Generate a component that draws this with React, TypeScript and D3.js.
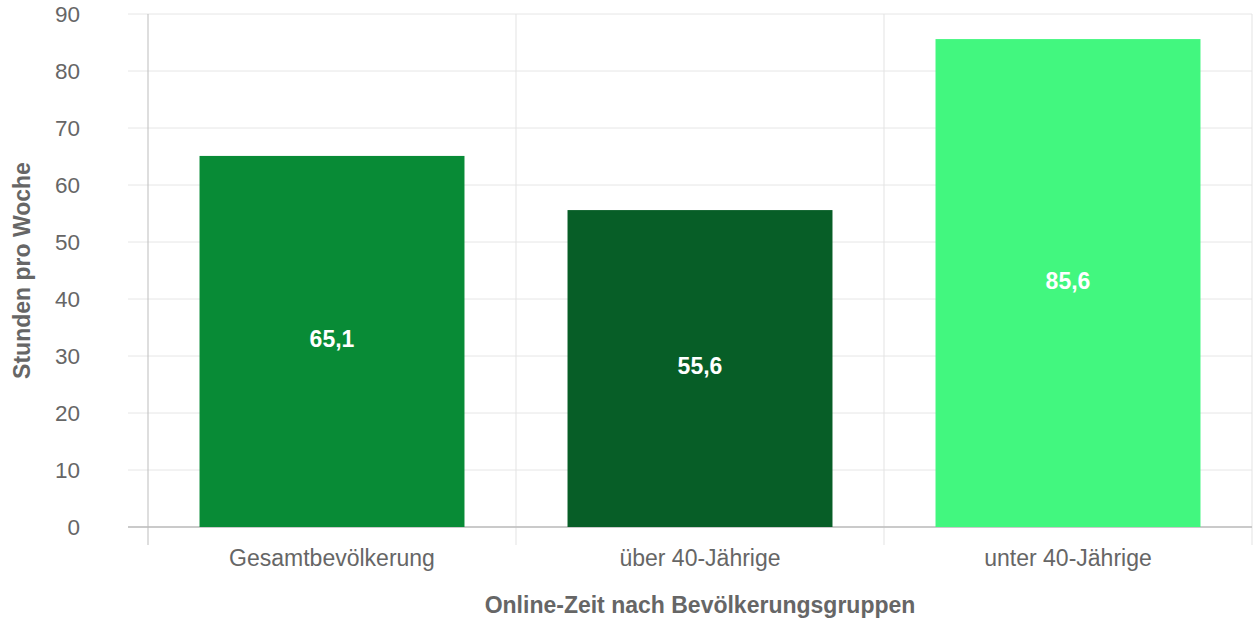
import React from "react";
import * as d3 from "d3";

const categories = ["Gesamtbevölkerung", "über 40-Jährige", "unter 40-Jährige"];
const values = [65.1, 55.6, 85.6];
const barColors = ["#088b36", "#075e27", "#42f77f"];
const yTicks = [0, 10, 20, 30, 40, 50, 60, 70, 80, 90];
const xTitle = "Online-Zeit nach Bevölkerungsgruppen";
const yTitle = "Stunden pro Woche";

const W = 1258;
const H = 629;
const left = 148;
const right = 1252;
const top = 14;
const bottom = 527;

export default function App() {
  const x = d3.scaleBand<string>().domain(categories).range([left, right]).paddingInner(0.28).paddingOuter(0.14);
  const y = d3.scaleLinear().domain([0, 90]).range([bottom, top]);
  const step = x.step();
  const bounds = [left, ...categories.map((_, i) => left + step * (i + 1))];
  const font = "'Liberation Sans', Arial, sans-serif";
  const fmt = (v: number) => v.toFixed(1).replace(".", ",");
  return (
    <svg width={W} height={H} style={{ position: "absolute", left: 0, top: 0, background: "#fff" }} fontFamily={font}>
      {yTicks.map((t) => (
        <line key={"g" + t} x1={128} x2={right} y1={y(t)} y2={y(t)} stroke="#e6e6e6" strokeWidth={1} />
      ))}
      {bounds.map((b, i) => (
        <line key={"v" + i} x1={b} x2={b} y1={top} y2={545} stroke={i === 0 ? "#bdbdbd" : "#e3e3e3"} strokeWidth={1} />
      ))}
      <line x1={128} x2={right} y1={bottom} y2={bottom} stroke="#bdbdbd" strokeWidth={1.5} />
      {yTicks.map((t) => (
        <text key={"t" + t} x={80} y={y(t)} dy="0.35em" textAnchor="end" fontSize={22.5} fill="#666">{t}</text>
      ))}
      {categories.map((c, i) => (
        <g key={c}>
          <rect x={x(c)} y={y(values[i])} width={x.bandwidth()} height={bottom - y(values[i])} fill={barColors[i]} />
          <text x={(x(c) as number) + x.bandwidth() / 2} y={(y(values[i]) + bottom) / 2 - 2.5} dy="0.35em" textAnchor="middle" fontSize={23} fontWeight="bold" fill="#fff">{fmt(values[i])}</text>
          <text x={(x(c) as number) + x.bandwidth() / 2} y={558} dy="0.35em" textAnchor="middle" fontSize={23} fill="#666">{c}</text>
        </g>
      ))}
      <text x={(left + right) / 2} y={605} dy="0.35em" textAnchor="middle" fontSize={23} fontWeight="bold" fill="#666">{xTitle}</text>
      <text transform={`translate(22, ${(top + bottom) / 2}) rotate(-90)`} dy="0.35em" textAnchor="middle" fontSize={23} fontWeight="bold" fill="#666">{yTitle}</text>
    </svg>
  );
}
